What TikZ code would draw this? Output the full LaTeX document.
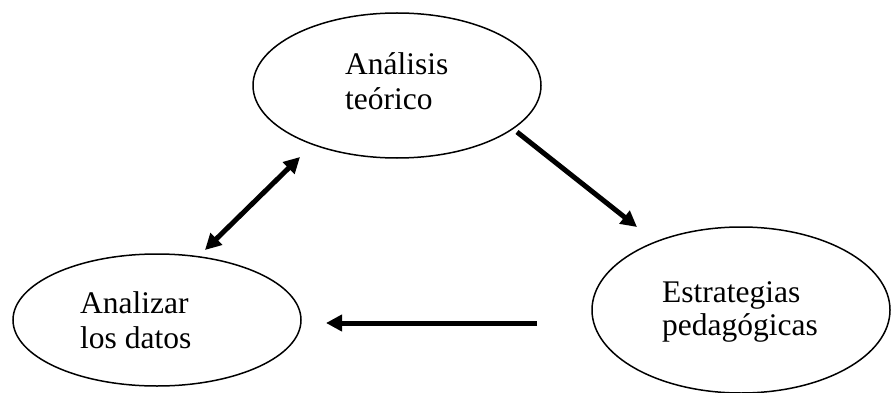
\documentclass[tikz,border=0pt]{standalone}
\usepackage{fontspec}
\setmainfont{Liberation Serif}
\usetikzlibrary{shapes.geometric,arrows.meta}
\begin{document}
\begin{tikzpicture}[x=1pt,y=-1pt,
  bubble/.style={draw, ellipse, line width=1.5pt, inner sep=0pt},
  lbl/.style={anchor=base west, inner sep=0pt, font=\fontsize{31.5}{35}\selectfont},
  tipa/.tip={Triangle[length=16pt,width=16pt]},
  flow/.style={line width=5pt, -tipa},
  flow2/.style={line width=5pt, tipa-tipa}]
\useasboundingbox (0,0) rectangle (891,393);
\node[bubble, minimum width=288pt, minimum height=145pt] (ta) at (397,85.5) {};
\node[bubble, minimum width=288pt, minimum height=132pt] (ad) at (157,320) {};
\node[bubble, minimum width=298pt, minimum height=166pt] (ep) at (741,310) {};
\node[lbl] (t1) at (345,75) {Análisis};
\node[lbl] (t2) at (345,110) {teórico};
\node[lbl] (l1) at (80,313) {Analizar};
\node[lbl] (l2) at (80,348) {los datos};
\node[lbl] (r1) at (662,302) {Estrategias};
\node[lbl] (r2) at (662,335) {pedagógicas};
\coordinate (a1) at (300,157);
\coordinate (a2) at (205,250);
\coordinate (b1) at (517,132);
\coordinate (b2) at (637,227);
\coordinate (c1) at (537,323);
\coordinate (c2) at (326,323);
\draw[flow2] (a2) -- (a1);
\draw[flow] (b1) -- (b2);
\draw[flow] (c1) -- (c2);
\end{tikzpicture}
\end{document}
